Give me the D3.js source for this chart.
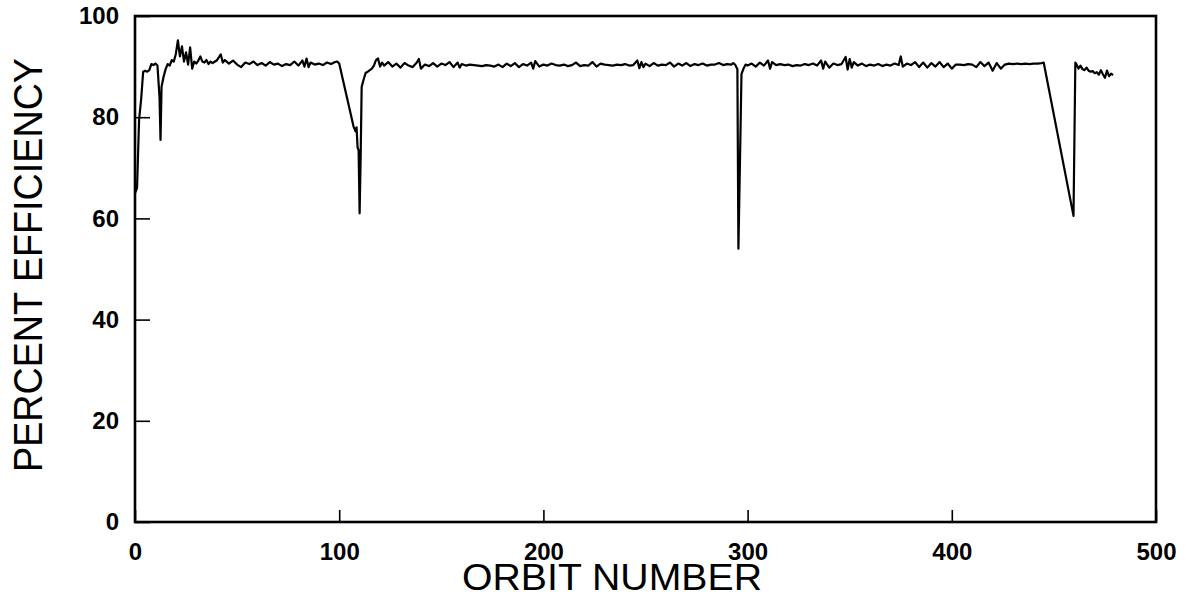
<!DOCTYPE html>
<html>
<head>
<meta charset="utf-8">
<script src="https://cdn.jsdelivr.net/npm/d3@7"></script>
<style>
  html, body { margin: 0; padding: 0; background: #fff; }
  svg { display: block; }
  text { font-family: "Liberation Sans", Arial, Helvetica, sans-serif; fill: #000; }
</style>
</head>
<body>
<svg id="chart" width="1196" height="598"></svg>
<script>
// ---- data ----
const orbits = [
  0, 1, 2, 3, 4, 5, 6, 7, 8, 9, 10, 11, 12, 12.5, 13, 14, 15, 16, 17, 18, 19, 20,
  21, 22, 23, 24, 25, 26, 27, 28, 29, 30, 31, 32, 33, 34, 35, 36, 37, 38, 40, 42, 43,
  44, 46, 48, 50, 52, 54, 56, 58, 60, 62, 64, 66, 68, 70, 72, 74, 76, 78, 80, 82, 83,
  84, 85, 86, 88, 90, 92, 94, 96, 98, 99, 100,
  107, 108, 108.5, 109, 109.5, 110, 110.5, 111, 112, 113, 114, 115, 116, 117, 118, 119, 120, 121,
  122, 124, 126, 128, 130, 132, 134, 136, 138, 139, 140, 142, 144, 146, 148, 150, 152, 154, 156,
  158, 159, 160, 162, 164, 166, 168, 170, 172, 174, 176, 178, 180, 182, 184, 186, 188, 190, 192,
  194, 195, 196, 198, 200, 202, 204, 206, 208, 210, 212, 214, 216, 218, 220, 222, 224, 226, 228,
  230, 232, 234, 236, 238, 240, 242, 244, 246, 247, 248, 249, 250, 252, 254, 256, 258, 260, 262,
  264, 266, 268, 270, 272, 274, 276, 278, 280, 282, 284, 286, 288, 290, 292, 293, 294, 295,
  295.5, 296.3, 297, 298, 299,
  300, 302, 304, 306, 308, 310, 311, 312, 314, 316, 318, 320, 322, 324, 326, 328, 330, 332, 334,
  336, 337, 338, 340, 342, 344, 346, 348, 349, 350, 351, 352, 354, 356, 358, 360, 362, 364, 366,
  368, 370, 372, 374, 375, 376, 378, 380, 382, 384, 386, 388, 390, 392, 394, 396, 398, 400, 402,
  404, 406, 408, 410, 412, 414, 416, 418, 420, 422, 424, 426, 428, 430, 432, 434, 436, 438, 440,
  442, 444, 445,
  459.6, 460.5, 461, 462, 463, 464, 465, 466, 467, 468, 469, 470, 471, 472, 473, 474, 475, 476,
  477, 478, 479
];
const efficiency = [
  65, 66, 79.5, 83.5, 89, 89.2, 89, 89.3, 90.5, 90.3, 90.6, 90.2, 84, 75.5, 86, 88, 89.5, 90.5, 90.2, 91.3, 91, 92.5,
  95.2, 92, 94, 91, 92.8, 90.4, 93.8, 89.6, 91, 90.6, 91.2, 92, 91, 90.8, 91.3, 90.5, 91, 90.7, 91.2, 92.4, 90.8,
  91.3, 90.6, 91.2, 90.4, 89.9, 90.8, 90.5, 91.0, 90.3, 90.7, 90.2, 90.9, 90.4, 90.6, 90.1, 90.5, 90.3, 91.0, 90.2, 91.2, 90.0,
  91.6, 89.9, 90.8, 90.4, 90.6, 90.3, 90.8, 90.5, 90.9, 91.0, 90.6,
  78.2, 77.2, 78, 74, 73.5, 61, 72, 86, 87.5, 88.8, 89, 89.3, 89.6, 90.2, 91.3, 91.6, 90, 90.8,
  90.2, 90.9, 90.0, 90.6, 89.8, 90.7, 90.2, 89.9, 90.8, 91.5, 89.6, 90.4, 90.1, 90.7, 90.0, 90.6, 90.3, 90.9, 89.9,
  90.8, 89.8, 90.5, 90.2, 90.4, 90.3, 90.2, 90.1, 90.3, 90.2, 90.0, 90.4, 89.9, 90.6, 90.1, 90.7, 89.9, 90.5, 90.2,
  90.8, 89.6, 91.1, 90.0, 90.4, 90.2, 90.6, 90.3, 90.2, 90.4, 90.1, 90.3, 90.8, 90.1, 90.3, 90.2, 90.9, 90.0, 90.6,
  90.4, 90.3, 90.2, 90.4, 90.3, 90.5, 90.2, 90.3, 91.2, 89.7, 90.9, 89.9, 90.6, 90.1, 90.7, 90.2, 90.4, 90.3, 90.8,
  90.0, 90.6, 90.2, 90.7, 90.1, 90.5, 90.3, 90.6, 90.2, 90.4, 90.4, 90.7, 90.3, 90.5, 90.4, 90.7, 90.3, 89.5,
  54, 72, 88.5, 89.6, 90.4,
  90.2, 90.6, 90.0, 90.8, 90.2, 91.2, 89.6, 90.9, 90.3, 90.5, 90.3, 90.4, 90.1, 90.3, 90.2, 90.5, 90.3, 90.6, 90.2,
  91.2, 89.6, 91.0, 89.8, 90.6, 90.3, 90.5, 91.9, 89.4, 91.5, 89.8, 90.9, 90.2, 90.6, 90.1, 90.4, 90.2, 90.5, 90.1,
  90.4, 90.2, 90.6, 90.3, 92.0, 90.0, 90.6, 90.3, 90.9, 89.9, 90.8, 89.8, 90.7, 90.0, 90.9, 89.9, 90.6, 89.6, 90.4,
  90.4, 90.3, 90.5, 90.4, 89.9, 90.9, 90.1, 90.8, 89.2, 90.7, 89.6, 90.4, 90.6, 90.5, 90.6, 90.5, 90.6, 90.5, 90.6,
  90.6, 90.7, 90.8,
  60.5, 90.8, 90.5, 89.6, 90.2, 89.5, 89.3, 89.8, 89.2, 89.0, 89.1, 88.7, 88.9, 88.4, 89.3, 88.5, 87.8, 89.2,
  88.1, 88.6, 88.3
];
const xTicks = [0, 100, 200, 300, 400, 500];
const yTicks = [0, 20, 40, 60, 80, 100];
const xTitle = "ORBIT NUMBER";
const yTitle = "PERCENT EFFICIENCY";

// ---- drawing ----
const svg = d3.select("#chart");
const x = d3.scaleLinear().domain([0, 500]).range([135, 1156]);
const y = d3.scaleLinear().domain([0, 100]).range([522, 16]);

const points = orbits.map((o, i) => [o, efficiency[i]]);

// frame
svg.append("rect")
  .attr("x", x(0)).attr("y", y(100))
  .attr("width", x(500) - x(0)).attr("height", y(0) - y(100))
  .attr("fill", "none").attr("stroke", "#000").attr("stroke-width", 2.6);

// x axis (ticks inward)
const xAxis = d3.axisBottom(x).tickValues(xTicks).tickSize(-12).tickPadding(21).tickFormat(d3.format("d"));
const gx = svg.append("g").attr("transform", `translate(0,${y(0)})`).call(xAxis);
gx.select(".domain").remove();
gx.selectAll(".tick line").attr("stroke", "#000").attr("stroke-width", 1.6);
gx.selectAll(".tick text")
  .attr("font-size", 24).attr("font-weight", "bold")
  .attr("font-family", "'Liberation Sans', Arial, sans-serif").attr("fill", "#000");

// y axis (ticks inward)
const yAxis = d3.axisLeft(y).tickValues(yTicks).tickSize(-15).tickPadding(16).tickFormat(d3.format("d"));
const gy = svg.append("g").attr("transform", `translate(${x(0)},0)`).call(yAxis);
gy.select(".domain").remove();
gy.selectAll(".tick line").attr("stroke", "#000").attr("stroke-width", 1.6);
gy.selectAll(".tick text")
  .attr("font-size", 24).attr("font-weight", "bold")
  .attr("font-family", "'Liberation Sans', Arial, sans-serif").attr("fill", "#000");

// data line
svg.append("path")
  .datum(points)
  .attr("fill", "none")
  .attr("stroke", "#000")
  .attr("stroke-width", 2.2)
  .attr("stroke-linejoin", "round")
  .attr("d", d3.line().x(d => x(d[0])).y(d => y(d[1])));

// titles
svg.append("text")
  .attr("x", 612).attr("y", 590)
  .attr("text-anchor", "middle")
  .attr("font-size", 37)
  .attr("textLength", 300).attr("lengthAdjust", "spacingAndGlyphs")
  .text(xTitle);

svg.append("text")
  .attr("transform", "translate(42,265) rotate(-90)")
  .attr("text-anchor", "middle")
  .attr("font-size", 40)
  .attr("textLength", 414).attr("lengthAdjust", "spacingAndGlyphs")
  .text(yTitle);
</script>
</body>
</html>
